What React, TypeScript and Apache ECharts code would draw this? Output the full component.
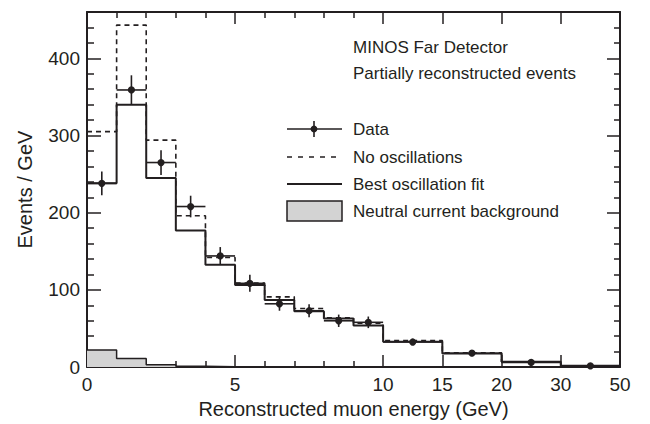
import React, { useEffect, useRef } from "react";
import * as echarts from "echarts";

// Bin edges in GeV (variable width bins)
const binEdges = [0, 1, 2, 3, 4, 5, 6, 7, 8, 9, 10, 15, 20, 30, 50];
// Piecewise axis scale: GeV breakpoints -> axis position
const scaleGeV = [0, 10, 20, 30, 50];
const scalePos = [0, 10, 14, 16, 18];

const majorTickGeV = [0, 5, 10, 15, 20, 30, 50];
const majorTickLabels = ["0", "5", "10", "15", "20", "30", "50"];
const minorTickGeV = [1, 2, 3, 4, 6, 7, 8, 9];

const yMajorTicks = [0, 100, 200, 300, 400];
const yMinorTicks = [20, 40, 60, 80, 120, 140, 160, 180, 220, 240, 260, 280, 320, 340, 360, 380, 420, 440];

// Events / GeV per bin
const noOscillations = [305, 443, 294, 196, 142, 109, 91, 76, 64, 57, 34.5, 18.5, 7, 1.8];
const bestFit = [238, 340, 245, 177, 132.5, 106.5, 87, 72.5, 63, 54, 33, 17.5, 6.8, 1.7];
const dataValues = [238, 359, 265, 208, 144, 108.5, 82, 73, 60, 58, 32.5, 18, 6, 1.5];
const dataErrors = [15.5, 19, 16, 14, 11.5, 11, 9, 8.5, 8, 7.5, 2.6, 1.9, 0.8, 0.3];
const ncBackground = [22, 11, 3, 1, 0.6, 0.5, 0.4, 0.4, 0.3, 0.3, 0.2, 0.15, 0.1, 0.05];

function pos(gev: number): number {
  for (let i = 0; i < scaleGeV.length - 1; i++) {
    const a = scaleGeV[i], b = scaleGeV[i + 1];
    if (gev <= b || i === scaleGeV.length - 2) {
      return scalePos[i] + ((gev - a) / (b - a)) * (scalePos[i + 1] - scalePos[i]);
    }
  }
  return 0;
}

function steps(vals: number[]): number[][] {
  const out: number[][] = [];
  vals.forEach((v, i) => {
    out.push([pos(binEdges[i]), v]);
    out.push([pos(binEdges[i + 1]), v]);
  });
  return out;
}

const FONT = "'Liberation Sans', Arial, Helvetica, sans-serif";
const INK = "#231f20";

export default function App() {
  const ref = useRef<HTMLDivElement>(null);
  useEffect(() => {
    if (!ref.current) return;
    const chart = echarts.init(ref.current, null, { renderer: "svg" });
    const majorPos = majorTickGeV.map(pos);
    const minorPos = minorTickGeV.map(pos);
    const labelFor = (v: number) => {
      const i = majorPos.findIndex((p) => Math.abs(p - v) < 1e-6);
      return i >= 0 ? majorTickLabels[i] : "";
    };
    const xBase = { type: "value", min: 0, max: 18, splitLine: { show: false } };
    const yBase = { type: "value", min: 0, max: 460, splitLine: { show: false } };
    const lineAxis = { show: true, onZero: false, lineStyle: { color: INK, width: 2 } };
    const noLine = { show: false, onZero: false };

    const pointData = dataValues.map((v, i) => [
      pos(binEdges[i]),
      pos(binEdges[i + 1]),
      (pos(binEdges[i]) + pos(binEdges[i + 1])) / 2,
      v,
      dataErrors[i],
    ]);

    const legendX0 = 287, legendX1 = 342, textX = 353;
    const txt = (text: string, y: number) => ({
      type: "text",
      x: textX,
      y,
      style: { text, fill: INK, font: `17px ${FONT}`, textVerticalAlign: "middle", verticalAlign: "middle" },
    });

    chart.setOption({
      animation: false,
      backgroundColor: "#ffffff",
      grid: { left: 87, right: 30, top: 12, bottom: 52, containLabel: false },
      xAxis: [
        {
          ...xBase,
          position: "bottom",
          axisLine: lineAxis,
          axisTick: { show: true, inside: true, length: 12, customValues: majorPos, lineStyle: { color: INK, width: 1.5 } },
          axisLabel: { show: true, customValues: majorPos, formatter: labelFor, color: INK, fontSize: 19, fontFamily: FONT, margin: 8 },
          name: "Reconstructed muon energy (GeV)",
          nameLocation: "middle",
          nameGap: 31,
          nameTextStyle: { color: INK, fontSize: 20, fontFamily: FONT },
        },
        {
          ...xBase,
          position: "bottom",
          axisLine: noLine,
          axisTick: { show: true, inside: true, length: 6, customValues: minorPos, lineStyle: { color: INK, width: 1.5 } },
          axisLabel: { show: false },
        },
        {
          ...xBase,
          position: "top",
          axisLine: lineAxis,
          axisTick: { show: true, inside: true, length: 12, customValues: majorPos, lineStyle: { color: INK, width: 1.5 } },
          axisLabel: { show: false },
        },
        {
          ...xBase,
          position: "top",
          axisLine: noLine,
          axisTick: { show: true, inside: true, length: 6, customValues: minorPos, lineStyle: { color: INK, width: 1.5 } },
          axisLabel: { show: false },
        },
      ],
      yAxis: [
        {
          ...yBase,
          position: "left",
          axisLine: lineAxis,
          axisTick: { show: true, inside: true, length: 14, customValues: yMajorTicks, lineStyle: { color: INK, width: 1.5 } },
          axisLabel: { show: true, customValues: yMajorTicks, color: INK, fontSize: 19, fontFamily: FONT, margin: 7 },
          name: "Events / GeV",
          nameLocation: "middle",
          nameGap: 52,
          nameTextStyle: { color: INK, fontSize: 20, fontFamily: FONT },
        },
        {
          ...yBase,
          position: "left",
          axisLine: noLine,
          axisTick: { show: true, inside: true, length: 7, customValues: yMinorTicks, lineStyle: { color: INK, width: 1.5 } },
          axisLabel: { show: false },
        },
        {
          ...yBase,
          position: "right",
          axisLine: lineAxis,
          axisTick: { show: true, inside: true, length: 13, customValues: yMajorTicks, lineStyle: { color: INK, width: 1.5 } },
          axisLabel: { show: false },
        },
        {
          ...yBase,
          position: "right",
          axisLine: noLine,
          axisTick: { show: true, inside: true, length: 6, customValues: yMinorTicks, lineStyle: { color: INK, width: 1.5 } },
          axisLabel: { show: false },
        },
      ],
      series: [
        {
          name: "Neutral current background",
          type: "line",
          xAxisIndex: 0,
          yAxisIndex: 0,
          data: steps(ncBackground),
          symbol: "none",
          lineStyle: { color: INK, width: 1.5 },
          areaStyle: { color: "#d3d3d3", opacity: 1, origin: "start" },
          z: 1,
        },
        {
          name: "No oscillations",
          type: "line",
          xAxisIndex: 0,
          yAxisIndex: 0,
          data: steps(noOscillations),
          symbol: "none",
          lineStyle: { color: INK, width: 1.6, type: [5, 4] },
          z: 2,
        },
        {
          name: "Best oscillation fit",
          type: "line",
          xAxisIndex: 0,
          yAxisIndex: 0,
          data: steps(bestFit),
          symbol: "none",
          lineStyle: { color: INK, width: 2 },
          z: 3,
        },
        {
          name: "Data",
          type: "custom",
          xAxisIndex: 0,
          yAxisIndex: 0,
          data: pointData,
          encode: { x: [0, 1, 2], y: [3] },
          z: 4,
          renderItem: (params: any, api: any) => {
            const lo = api.value(0), hi = api.value(1), c = api.value(2), v = api.value(3), e = api.value(4);
            const pL = api.coord([lo, v]);
            const pR = api.coord([hi, v]);
            const pT = api.coord([c, v + e]);
            const pB = api.coord([c, Math.max(0, v - e)]);
            const pC = api.coord([c, v]);
            return {
              type: "group",
              children: [
                { type: "line", shape: { x1: pL[0], y1: pL[1], x2: pR[0], y2: pR[1] }, style: { stroke: INK, lineWidth: 1.6 } },
                { type: "line", shape: { x1: pT[0], y1: pT[1], x2: pB[0], y2: pB[1] }, style: { stroke: INK, lineWidth: 1.6 } },
                { type: "circle", shape: { cx: pC[0], cy: pC[1], r: 3.6 }, style: { fill: INK } },
              ],
            };
          },
        },
      ],
      graphic: [
        txt("MINOS Far Detector", 47),
        txt("Partially reconstructed events", 73),
        { type: "line", shape: { x1: legendX0, y1: 129, x2: legendX1, y2: 129 }, style: { stroke: INK, lineWidth: 1.6 } },
        { type: "line", shape: { x1: 314, y1: 121, x2: 314, y2: 137 }, style: { stroke: INK, lineWidth: 1.6 } },
        { type: "circle", shape: { cx: 314, cy: 129, r: 3.4 }, style: { fill: INK } },
        txt("Data", 129),
        { type: "line", shape: { x1: legendX0, y1: 157, x2: legendX1, y2: 157 }, style: { stroke: INK, lineWidth: 1.6, lineDash: [5, 6] } },
        txt("No oscillations", 157),
        { type: "line", shape: { x1: legendX0, y1: 184, x2: legendX1, y2: 184 }, style: { stroke: INK, lineWidth: 2 } },
        txt("Best oscillation fit", 184),
        { type: "rect", shape: { x: legendX0, y: 201, width: legendX1 - legendX0, height: 20 }, style: { fill: "#d3d3d3", stroke: INK, lineWidth: 1.5 } },
        txt("Neutral current background", 211),
      ],
    });
    return () => chart.dispose();
  }, []);
  return <div ref={ref} style={{ position: "absolute", left: 0, top: 0, width: 650, height: 424 }} />;
}
